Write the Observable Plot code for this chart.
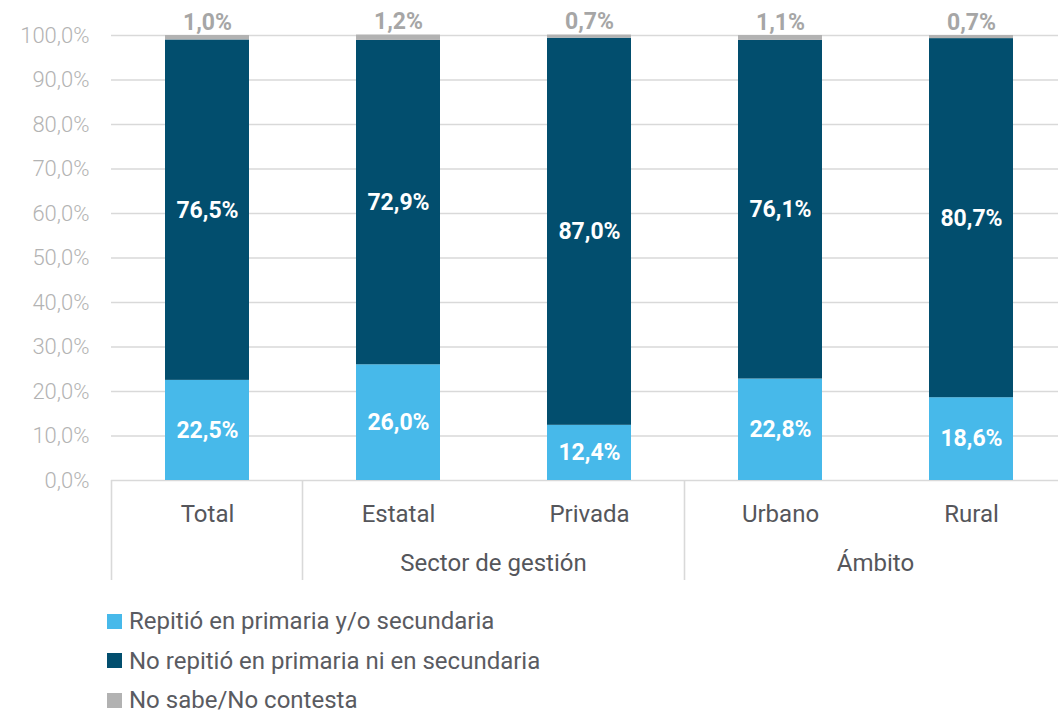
<!DOCTYPE html>
<html><head><meta charset="utf-8">
<script src="https://cdn.jsdelivr.net/npm/d3@7"></script>
<script src="https://cdn.jsdelivr.net/npm/@observablehq/plot@0.6"></script>
<style>
body{margin:0;background:#fff;font-family:Roboto,sans-serif;overflow:hidden;}
#legend{margin-left:107px;padding-top:19px;}
.item{display:flex;align-items:center;height:24px;line-height:24px;margin-bottom:15.5px;font-size:24px;color:#5a5b61}
.sw{width:15px;height:15px;margin-right:7px;flex:none}
</style></head><body><div id="chart"></div><div id="legend"></div>
<script>
const categories = ["Total","Estatal","Privada","Urbano","Rural"];
const repitio   = [22.5, 26.0, 12.4, 22.8, 18.6];
const noRepitio = [76.5, 72.9, 87.0, 76.1, 80.7];
const noSabe    = [1.0, 1.2, 0.7, 1.1, 0.7];
const series = ["Repitió en primaria y/o secundaria","No repitió en primaria ni en secundaria","No sabe/No contesta"];
const colors = ["#47b9ea","#024e6e","#b2b2b2"];
const groups = [
  {label:"Sector de gestión", from:"Estatal", to:"Privada"},
  {label:"Ámbito", from:"Urbano", to:"Rural"}
];
const separators = ["Total","Estatal","Urbano"];
const yTicks = [0,10,20,30,40,50,60,70,80,90,100];

const fmt = v => v.toFixed(1).replace(".", ",") + "%";
const values = [repitio, noRepitio, noSabe];
const data = [];
categories.forEach((c,i) => series.forEach((s,j) => data.push({cat:c, serie:s, value:values[j][i]})));

const chart = Plot.plot({
  width:1058, height:590,
  marginTop:35, marginBottom:110, marginLeft:111, marginRight:0,
  style:{fontFamily:"Roboto, sans-serif", background:"transparent"},
  x:{domain:categories, range:[111,1068], paddingInner:0.56, paddingOuter:0.28, axis:null},
  y:{domain:[0,100], axis:null},
  color:{domain:series, range:colors},
  marks:[
    Plot.gridY(yTicks, {stroke:"#d9d9d9", strokeOpacity:1, strokeWidth:1.6}),
    Plot.axisY(yTicks, {label:null, tickSize:0, tickPadding:0, dx:-22, tickFormat:fmt, fontSize:22, fontWeight:300, fill:"#b3b3b3", textAnchor:"end"}),
    Plot.barY(data, {x:"cat", y:"value", fill:"serie", order:series}),
    Plot.text(data, Plot.stackY({x:"cat", y:"value", z:"serie", order:series,
      text: d => d.serie === series[2] ? "" : fmt(d.value),
      fill:"white", fontSize:23, fontWeight:"bold"})),
    Plot.text(data, Plot.stackY2({x:"cat", y:"value", z:"serie", order:series,
      text: d => d.serie === series[2] ? fmt(d.value) : "",
      fill:"#a6a6a6", fontSize:23, fontWeight:"bold", dy:-13})),
    Plot.text(categories, {x:d=>d, frameAnchor:"bottom", dy:41, text:d=>d, fontSize:24, fill:"#55565b"})
  ]
});
document.getElementById("chart").appendChild(chart);

// separators and group labels from the plot's own scales
const xs = chart.scale("x"), ys = chart.scale("y");
const bw = xs.bandwidth;
const step = xs.apply(categories[1]) - xs.apply(categories[0]);
const y0 = ys.apply(0);
const svg = d3.select(chart);
const g = svg.append("g");
separators.forEach(c => {
  const x = xs.apply(c) - (step - bw)/2;
  g.append("line").attr("x1",x).attr("x2",x).attr("y1",y0).attr("y2",y0+100)
   .attr("stroke","#d9d9d9").attr("stroke-width",1.6);
});
groups.forEach(gr => {
  const x = (xs.apply(gr.from) + xs.apply(gr.to) + bw)/2;
  g.append("text").attr("x",x).attr("y",y0+85).attr("text-anchor","middle")
   .attr("dominant-baseline","middle").attr("font-size",24).attr("fill","#55565b")
   .attr("font-family","Roboto, sans-serif").text(gr.label);
});

const leg = d3.select("#legend");
series.forEach((s,i) => {
  const it = leg.append("div").attr("class","item");
  it.append("div").attr("class","sw").style("background", colors[i]);
  it.append("span").text(s);
});
</script></body></html>
